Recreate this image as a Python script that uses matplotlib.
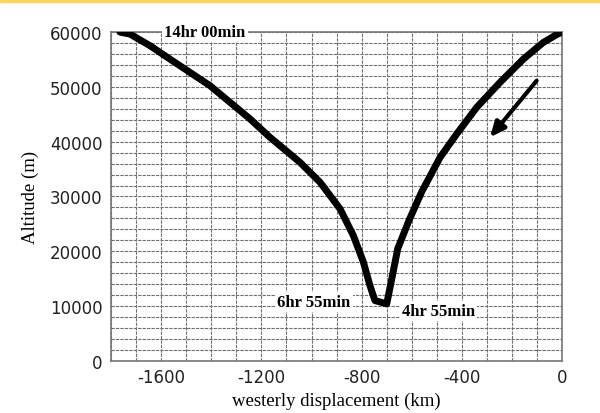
import matplotlib.pyplot as plt
from matplotlib.patches import Rectangle

# balloon track
x_km = [-1764, -1724, -1644, -1565, -1485, -1405, -1325, -1245, -1166, -1086,
        -1046, -966, -886, -833, -793, -767, -747, -700, -680, -656, -610,
        -560, -487, -421, -341, -248, -155, -75, -20, 0]
alt_m = [60000, 59640, 57510, 55080, 52650, 50220, 47180, 44140, 40800, 37760,
         36230, 32590, 27720, 22850, 18000, 13740, 11000, 10400, 14960, 20500,
         25750, 30900, 37150, 41400, 46270, 50830, 55080, 58130, 59600, 60000]

x_ticks = [-1600, -1200, -800, -400, 0]
y_ticks = [0, 10000, 20000, 30000, 40000, 50000, 60000]

labels = ["14hr 00min", "6hr 55min", "4hr 55min"]
label_x = [-1425, -990, -495]
label_y = [60000, 10760, 9175]

arrow_from = (-102, 51130)
arrow_to = (-288, 40800)

fig = plt.figure(figsize=(6, 4.14), dpi=100)
ax = fig.add_axes([0.185, 0.126, 0.752, 0.794])

ax.set_xticks(range(-1800, 1, 100), minor=True)
ax.set_yticks(range(0, 60001, 2000), minor=True)
ax.grid(which='both', color='#707070', linestyle=(0, (3, 1)), linewidth=0.8)
ax.set_axisbelow(True)

ax.plot(x_km, alt_m, color='black', linewidth=5, solid_capstyle='round',
        solid_joinstyle='round', zorder=4)

for t, lx, ly in zip(labels, label_x, label_y):
    ax.text(lx, ly, t, ha='center', va='center', family='Liberation Serif',
            fontweight='bold', fontsize=12, zorder=5,
            bbox=dict(facecolor='white', edgecolor='none', pad=1.5))

ax.annotate('', xy=arrow_to, xytext=arrow_from, zorder=5,
            arrowprops=dict(arrowstyle='-|>,head_length=0.9,head_width=0.4',
                            color='black', linewidth=3, shrinkA=0, shrinkB=0))

ax.set_xlim(-1800, 0)
ax.set_ylim(0, 60000)
ax.set_xticks(x_ticks)
ax.set_yticks(y_ticks)
ax.set_xticklabels([str(v) for v in x_ticks])
ax.set_yticklabels([str(v) for v in y_ticks])
ax.tick_params(which='both', length=0, labelsize=12, colors='#222222', pad=6)
ax.tick_params(axis='x', pad=5)

for s in ax.spines.values():
    s.set_color('#777777')
    s.set_linewidth(1.2)

ax.set_xlabel('westerly displacement (km)', family='Liberation Serif',
              fontsize=13.5, labelpad=4)
ax.set_ylabel('Altitude (m)', family='Liberation Serif', fontsize=13.5,
              labelpad=8)

# yellow strip along the top edge
fig.patches.append(Rectangle((0, 1 - 2.5 / 414), 1, 2.5 / 414,
                             transform=fig.transFigure, color='#F8D56B'))

fig.savefig('out.png', dpi=100)
